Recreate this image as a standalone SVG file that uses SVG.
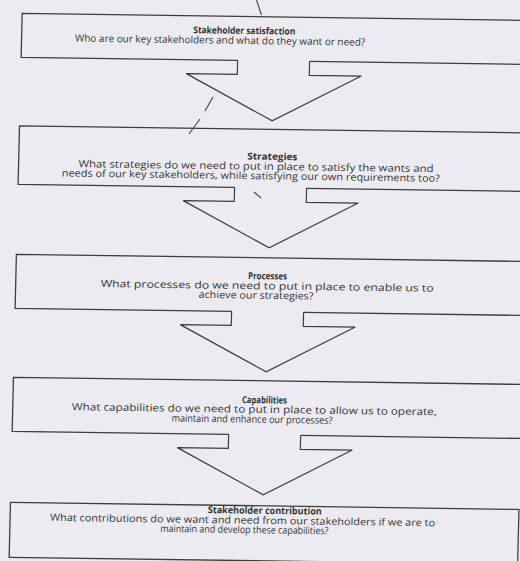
<svg xmlns="http://www.w3.org/2000/svg" width="520" height="561" viewBox="0 0 520 561">
<style>
.box{fill:none;stroke:#3d3d3d;stroke-width:1.3;stroke-linejoin:miter}
.arr{fill:none;stroke:#3d3d3d;stroke-width:1.2;stroke-linejoin:miter}
.mark{fill:none;stroke:#444;stroke-width:1.1}
text{font-family:"Open Sans","Liberation Sans",sans-serif;font-size:10px;fill:#333;text-anchor:middle}
.t{font-weight:bold;font-size:9.5px}
</style>
<rect x="0" y="0" width="520" height="561" fill="#ecebf1"/>
<g id="connectors">
  <line class="mark" x1="256.5" y1="0" x2="261.5" y2="15"/>
  <line class="mark" x1="213" y1="97" x2="205" y2="111"/>
  <line class="mark" x1="200" y1="119" x2="189" y2="134"/>
  <line class="mark" x1="254" y1="192" x2="261" y2="198"/>
  <g transform="matrix(1,0.014,-0.024,1,0,0)">
    <path id="arrow1" class="arr" d="M239,57 V71 H188 L275,117 L363,71 H311 V57"/>
    <path id="arrow2" class="arr" d="M239,184 V198 H188 L275,244 L363,198 H311 V184"/>
    <path id="arrow3" class="arr" d="M239,308 V322 H188 L275,368 L363,322 H311 V308"/>
    <path id="arrow4" class="arr" d="M239,431 V445 H188 L275,491 L363,445 H311 V431"/>
  </g>
</g>
<g transform="matrix(1,0.014,-0.024,1,0,0)">
  <g id="node-stakeholder-satisfaction">
    <path class="box" d="M239,57 H22.5 V13 H531 V57 H311"/>
    <text class="t" x="245" y="30.5" textLength="102" lengthAdjust="spacingAndGlyphs">Stakeholder satisfaction</text>
    <text x="221" y="40.5" textLength="290" lengthAdjust="spacingAndGlyphs">Who are our key stakeholders and what do they want or need?</text>
  </g>
  <g id="node-strategies">
    <path class="box" d="M239,184 H22.5 V125.5 H531 V184 H311"/>
    <text class="t" x="276" y="156" textLength="50" lengthAdjust="spacingAndGlyphs">Strategies</text>
    <text x="260" y="166" textLength="355" lengthAdjust="spacingAndGlyphs">What strategies do we need to put in place to satisfy the wants and</text>
    <text x="255" y="175.5" textLength="378" lengthAdjust="spacingAndGlyphs">needs of our key stakeholders, while satisfying our own requirements too?</text>
  </g>
  <g id="node-processes">
    <path class="box" d="M239,308 H22.5 V254 H531 V308 H311"/>
    <text class="t" x="274" y="275.5" textLength="39" lengthAdjust="spacingAndGlyphs">Processes</text>
    <text x="274" y="285.5" textLength="333" lengthAdjust="spacingAndGlyphs">What processes do we need to put in place to enable us to</text>
    <text x="263" y="295" textLength="115" lengthAdjust="spacingAndGlyphs">achieve our strategies?</text>
  </g>
  <g id="node-capabilities">
    <path class="box" d="M239,431 H22.5 V377 H531 V431 H311"/>
    <text class="t" x="274" y="399.5" textLength="45" lengthAdjust="spacingAndGlyphs">Capabilities</text>
    <text x="264" y="409" textLength="365" lengthAdjust="spacingAndGlyphs">What capabilities do we need to put in place to allow us to operate,</text>
    <text x="262" y="419" textLength="161" lengthAdjust="spacingAndGlyphs">maintain and enhance our processes?</text>
  </g>
  <g id="node-stakeholder-contribution">
    <rect class="box" x="22.5" y="502" width="508.5" height="55"/>
    <text class="t" x="277" y="510" textLength="114" lengthAdjust="spacingAndGlyphs">Stakeholder contribution</text>
    <text x="255" y="520" textLength="385" lengthAdjust="spacingAndGlyphs">What contributions do we want and need from our stakeholders if we are to</text>
    <text x="257" y="529.5" textLength="168" lengthAdjust="spacingAndGlyphs">maintain and develop these capabilities?</text>
  </g>
</g>
</svg>
